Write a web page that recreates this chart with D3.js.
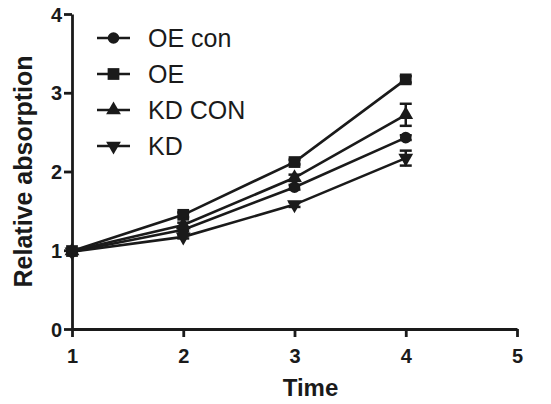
<!DOCTYPE html>
<html>
<head>
<meta charset="utf-8">
<script src="https://cdn.jsdelivr.net/npm/d3@7"></script>
<style>
  body { margin: 0; background: #fff; }
  text { font-family: "Liberation Sans", Arial, sans-serif; fill: #1a1a1a; }
</style>
</head>
<body>
<div id="chart"></div>
<script>
// data
let times = [1, 2, 3, 4];
let seriesNames = ["OE con", "OE", "KD CON", "KD"];
let oeCon = [0.98, 1.26, 1.80, 2.43];
let oe = [0.99, 1.45, 2.12, 3.17];
let kdCon = [0.99, 1.32, 1.92, 2.72];
let kd = [0.98, 1.17, 1.58, 2.17];
let oeConErr = [0.02, 0.02, 0.03, 0.03];
let oeErr = [0.02, 0.03, 0.03, 0.04];
let kdConErr = [0.02, 0.03, 0.04, 0.14];
let kdErr = [0.02, 0.02, 0.03, 0.095];
let xTicks = [1, 2, 3, 4, 5];
let yTicks = [0, 1, 2, 3, 4];

let series = [
    { name: seriesNames[0], values: oeCon, err: oeConErr, symbol: d3.symbolCircle, size: 105, rot: 0 },
    { name: seriesNames[1], values: oe, err: oeErr, symbol: d3.symbolSquare, size: 138, rot: 0 },
    { name: seriesNames[2], values: kdCon, err: kdConErr, symbol: d3.symbolTriangle, size: 95, rot: 0 },
    { name: seriesNames[3], values: kd, err: kdErr, symbol: d3.symbolTriangle, size: 95, rot: 180 }
];

let width = 551, height = 404;
let margin = { left: 72, right: 34, top: 14, bottom: 75 };

let svg = d3.select("#chart")
    .append("svg")
    .attr("width", width)
    .attr("height", height);

let x = d3.scaleLinear().domain([1, 5]).range([margin.left, width - margin.right]);
let y = d3.scaleLinear().domain([0, 4]).range([height - margin.bottom, margin.top]);

let ink = "#1a1a1a";

// axes
let xAxis = svg.append("g")
    .attr("transform", `translate(0,${y(0)})`)
    .call(d3.axisBottom(x).tickValues(xTicks).tickFormat(d3.format("d")).tickSize(8).tickSizeOuter(0));
let yAxis = svg.append("g")
    .attr("transform", `translate(${x(1)},0)`)
    .call(d3.axisLeft(y).tickValues(yTicks).tickFormat(d3.format("d")).tickSize(8).tickSizeOuter(0));

[xAxis, yAxis].forEach(a => {
    a.select(".domain").attr("stroke", ink).attr("stroke-width", 2.8);
    a.selectAll(".tick line").attr("stroke", ink).attr("stroke-width", 2.8);
    a.selectAll(".tick text")
        .attr("font-size", "20px")
        .attr("font-weight", "bold")
        .attr("font-family", "Liberation Sans, Arial, sans-serif")
        .attr("fill", ink);
});
xAxis.selectAll(".tick text").attr("dy", null).attr("y", 34);
yAxis.selectAll(".tick text").attr("x", -10).attr("dy", "0.36em");

// axis titles
svg.append("text")
    .attr("x", (x(1) + x(5)) / 2 + 16)
    .attr("y", 396)
    .attr("text-anchor", "middle")
    .attr("font-size", "24px")
    .attr("font-weight", "bold")
    .text("Time");

svg.append("text")
    .attr("transform", `translate(32,${(y(0) + y(4)) / 2})rotate(-90)`)
    .attr("text-anchor", "middle")
    .attr("font-size", "25px")
    .attr("font-weight", "bold")
    .text("Relative absorption");

let line = d3.line()
    .x((d, i) => x(times[i]))
    .y(d => y(d));

series.forEach(s => {
    let g = svg.append("g");

    g.append("path")
        .datum(s.values)
        .attr("d", line)
        .attr("fill", "none")
        .attr("stroke", ink)
        .attr("stroke-width", 2.6);

    // error bars
    s.values.forEach((v, i) => {
        let cx = x(times[i]);
        let top = y(v + s.err[i]), bot = y(v - s.err[i]);
        g.append("line")
            .attr("x1", cx).attr("x2", cx)
            .attr("y1", top).attr("y2", bot)
            .attr("stroke", ink).attr("stroke-width", 2.5);
        [top, bot].forEach(yy => {
            g.append("line")
                .attr("x1", cx - 6).attr("x2", cx + 6)
                .attr("y1", yy).attr("y2", yy)
                .attr("stroke", ink).attr("stroke-width", 2.5);
        });
    });

    g.selectAll("path.pt")
        .data(s.values)
        .enter()
        .append("path")
        .attr("class", "pt")
        .attr("d", d3.symbol().type(s.symbol).size(s.size))
        .attr("transform", (d, i) => `translate(${x(times[i])},${y(d)}) rotate(${s.rot})`)
        .attr("fill", ink);
});

// legend
let legend = svg.append("g").attr("transform", "translate(97,38)");
series.forEach((s, i) => {
    let row = legend.append("g").attr("transform", `translate(0,${i * 36})`);
    row.append("line")
        .attr("x1", 0).attr("x2", 33)
        .attr("y1", 0).attr("y2", 0)
        .attr("stroke", ink).attr("stroke-width", 2.6);
    row.append("path")
        .attr("d", d3.symbol().type(s.symbol).size(s.size))
        .attr("transform", `translate(16.5,0) rotate(${s.rot})`)
        .attr("fill", ink);
    row.append("text")
        .attr("x", 51)
        .attr("y", 0)
        .attr("dy", "0.36em")
        .attr("font-size", "25px")
        .text(s.name);
});
</script>
</body>
</html>
